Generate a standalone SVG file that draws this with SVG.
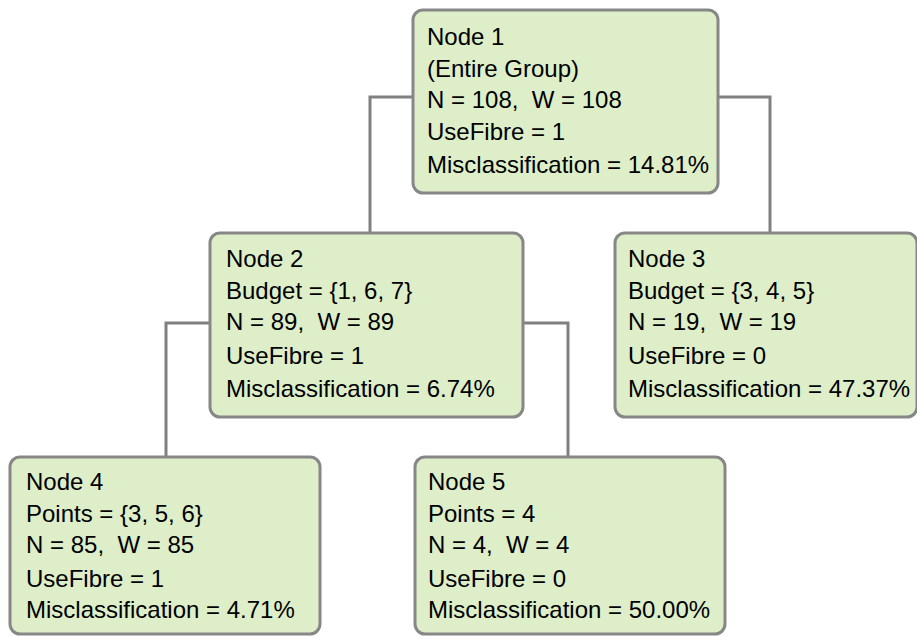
<svg xmlns="http://www.w3.org/2000/svg" width="917" height="637" viewBox="0 0 917 637">
<style>
.box{fill:#ddeec8;stroke:#878787;stroke-width:3}
.edge{fill:none;stroke:#808080;stroke-width:3}
text{font-family:"Liberation Sans",Arial,sans-serif;font-size:24px;fill:#000;white-space:pre}
</style>
<rect width="917" height="637" fill="#ffffff"/>
<g id="connectors">
<polyline class="edge" points="413,97 370,97 370,233"/>
<polyline class="edge" points="718,97 770,97 770,233"/>
<polyline class="edge" points="210,323 166,323 166,457"/>
<polyline class="edge" points="523,323 568,323 568,457"/>
</g>
<g id="node1">
<rect class="box" x="413" y="10" width="305" height="183" rx="10"/>
<text x="427" y="45">Node 1</text>
<text x="427" y="77">(Entire Group)</text>
<text x="427" y="108" xml:space="preserve">N = 108,  W = 108</text>
<text x="427" y="140">UseFibre = 1</text>
<text x="427" y="173">Misclassification = 14.81%</text>
</g>
<g id="node2">
<rect class="box" x="210" y="233" width="313" height="184" rx="10"/>
<text x="226" y="267">Node 2</text>
<text x="226" y="299">Budget = {1, 6, 7}</text>
<text x="226" y="330" xml:space="preserve">N = 89,  W = 89</text>
<text x="226" y="364">UseFibre = 1</text>
<text x="226" y="397">Misclassification = 6.74%</text>
</g>
<g id="node3">
<rect class="box" x="615" y="233" width="302" height="184" rx="10"/>
<text x="628" y="267">Node 3</text>
<text x="628" y="299">Budget = {3, 4, 5}</text>
<text x="628" y="330" xml:space="preserve">N = 19,  W = 19</text>
<text x="628" y="364">UseFibre = 0</text>
<text x="628" y="397">Misclassification = 47.37%</text>
</g>
<g id="node4">
<rect class="box" x="10" y="457" width="310" height="177" rx="10"/>
<text x="26" y="490">Node 4</text>
<text x="26" y="522">Points = {3, 5, 6}</text>
<text x="26" y="553" xml:space="preserve">N = 85,  W = 85</text>
<text x="26" y="587">UseFibre = 1</text>
<text x="26" y="618">Misclassification = 4.71%</text>
</g>
<g id="node5">
<rect class="box" x="415" y="457" width="310" height="177" rx="10"/>
<text x="428" y="490">Node 5</text>
<text x="428" y="522">Points = 4</text>
<text x="428" y="553" xml:space="preserve">N = 4,  W = 4</text>
<text x="428" y="587">UseFibre = 0</text>
<text x="428" y="618">Misclassification = 50.00%</text>
</g>
</svg>
